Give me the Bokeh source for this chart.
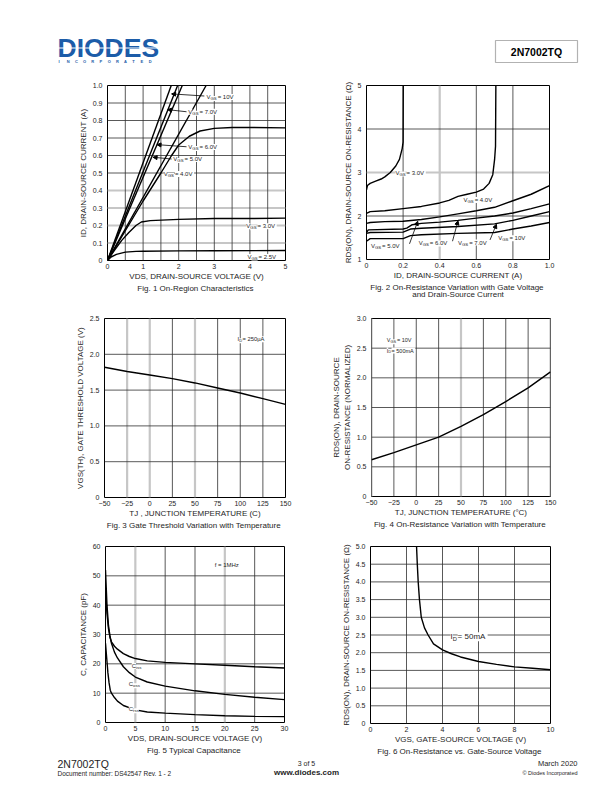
from bokeh.plotting import figure
from bokeh.layouts import column, row
from bokeh.models import (Range1d, FixedTicker, Span, Label, Title, Arrow, NormalHead,
                          BoxAnnotation, CustomJSTickFormatter)
from bokeh.core.properties import value
from bokeh.embed import file_html
from bokeh.resources import INLINE

FONT = "Liberation Sans"
INK = "#1e1e1e"
GRIDC = "#2e2e2e"
GRAYC = "#c6c6c6"
BLUE = "#1c5ca8"

# ---------------- Fig 1 : ID vs VDS ----------------
f1_v10_x = [0.0, 1.79]
f1_v10_y = [0.0, 1.0]
f1_v7_x = [0.0, 1.97]
f1_v7_y = [0.0, 1.0]
f1_v6_x = [0.0, 2.10]
f1_v6_y = [0.0, 1.0]
f1_v5_x = [0.0, 2.77]
f1_v5_y = [0.0, 1.0]
f1_v4_x = [0.0, 0.5, 1.0, 1.5, 1.8, 2.0, 2.3, 2.6, 3.0, 3.5, 4.0, 5.0]
f1_v4_y = [0.0, 0.17, 0.34, 0.50, 0.60, 0.66, 0.71, 0.74, 0.755, 0.76, 0.76, 0.758]
f1_v3_x = [0.0, 0.2, 0.4, 0.6, 0.8, 0.95, 1.2, 2.0, 3.0, 4.0, 5.0]
f1_v3_y = [0.0, 0.06, 0.115, 0.16, 0.20, 0.22, 0.228, 0.235, 0.24, 0.24, 0.242]
f1_v25_x = [0.0, 0.1, 0.25, 0.5, 0.8, 1.0, 2.0, 3.0, 5.0]
f1_v25_y = [0.0, 0.02, 0.035, 0.048, 0.052, 0.053, 0.055, 0.056, 0.057]
f1_xticks = [0, 1, 2, 3, 4, 5]
f1_yticks = [0, 0.1, 0.2, 0.3, 0.4, 0.5, 0.6, 0.7, 0.8, 0.9, 1.0]

# ---------------- Fig 2 : RDS(on) vs ID ----------------
f2_v3_x = [0.0, 0.005, 0.02, 0.05, 0.08, 0.10, 0.13, 0.16, 0.18, 0.195, 0.20, 0.201]
f2_v3_y = [2.6, 2.7, 2.75, 2.8, 2.85, 2.9, 3.0, 3.15, 3.3, 3.55, 3.7, 5.1]
f2_v4_x = [0.0, 0.02, 0.1, 0.2, 0.3, 0.4, 0.45, 0.5, 0.55, 0.6, 0.64, 0.67, 0.69, 0.70, 0.705, 0.707]
f2_v4_y = [2.06, 2.1, 2.12, 2.17, 2.22, 2.3, 2.36, 2.45, 2.5, 2.55, 2.62, 2.75, 2.95, 3.3, 3.6, 5.1]
f2_v5_x = [0.0, 0.02, 0.1, 0.2, 0.3, 0.4, 0.5, 0.6, 0.7, 0.8, 0.9, 1.0]
f2_v5_y = [1.83, 1.85, 1.87, 1.88, 1.92, 1.98, 2.05, 2.12, 2.2, 2.35, 2.5, 2.7]
f2_v6_x = [0.0, 0.01, 0.2, 0.22, 0.25, 0.3, 0.4, 0.5, 0.6, 0.7, 0.8, 0.9, 1.0]
f2_v6_y = [1.62, 1.68, 1.70, 1.72, 1.80, 1.83, 1.86, 1.90, 1.95, 2.0, 2.07, 2.17, 2.28]
f2_v7_x = [0.0, 0.02, 0.2, 0.24, 0.3, 0.5, 0.7, 0.8, 0.9, 1.0]
f2_v7_y = [1.60, 1.62, 1.63, 1.70, 1.72, 1.76, 1.82, 1.90, 2.0, 2.1]
f2_v10_x = [0.0, 0.02, 0.2, 0.24, 0.3, 0.5, 0.7, 0.8, 0.9, 1.0]
f2_v10_y = [1.42, 1.48, 1.48, 1.55, 1.57, 1.60, 1.62, 1.70, 1.77, 1.85]
f2_xticks = [0, 0.2, 0.4, 0.6, 0.8, 1.0]
f2_yticks = [1, 2, 3, 4, 5]

# ---------------- Fig 3 : VGS(th) vs TJ ----------------
f3_t = [-50, -25, 0, 25, 50, 75, 100, 125, 150]
f3_v = [1.82, 1.76, 1.71, 1.66, 1.60, 1.53, 1.46, 1.38, 1.30]
f3_xticks = [-50, -25, 0, 25, 50, 75, 100, 125, 150]
f3_yticks = [0, 0.5, 1.0, 1.5, 2.0, 2.5]

# ---------------- Fig 4 : normalized RDS(on) vs TJ ----------------
f4_t = [-50, -25, 0, 25, 50, 75, 100, 125, 150]
f4_r = [0.62, 0.74, 0.87, 1.0, 1.18, 1.38, 1.60, 1.83, 2.10]
f4_xticks = [-50, -25, 0, 25, 50, 75, 100, 125, 150]
f4_yticks = [0, 0.5, 1.0, 1.5, 2.0, 2.5, 3.0]

# ---------------- Fig 5 : capacitance vs VDS ----------------
f5_ciss_v = [0, 0.25, 0.5, 0.75, 1, 1.5, 2, 3, 4, 5, 7, 10, 15, 20, 25, 30]
f5_ciss_c = [45, 37, 32, 29, 27.5, 26, 25, 23.5, 22.5, 21.8, 21, 20.5, 20, 19.5, 19, 18.6]
f5_coss_v = [0, 0.25, 0.5, 0.75, 1, 1.5, 2, 3, 4, 5, 7, 10, 15, 20, 25, 30]
f5_coss_c = [52, 40, 33, 29.5, 27, 24, 22, 19, 17, 15.5, 13.8, 12.4, 10.8, 9.6, 8.6, 7.8]
f5_crss_v = [0, 0.2, 0.4, 0.6, 0.8, 1, 1.5, 2, 3, 5, 7, 10, 15, 20, 25, 30]
f5_crss_c = [27, 22, 17, 13.5, 11, 10, 8.5, 7.3, 5.8, 4.3, 3.6, 3.2, 2.7, 2.3, 2.1, 2.0]
f5_xticks = [0, 5, 10, 15, 20, 25, 30]
f5_yticks = [0, 10, 20, 30, 40, 50, 60]

# ---------------- Fig 6 : RDS(on) vs VGS ----------------
f6_vgs = [2.55, 2.6, 2.65, 2.72, 2.82, 3.0, 3.2, 3.5, 4.0, 4.5, 5, 6, 7, 8, 9, 10]
f6_r = [5.1, 4.5, 4.0, 3.5, 3.0, 2.7, 2.5, 2.25, 2.08, 1.97, 1.88, 1.75, 1.67, 1.6, 1.56, 1.52]
f6_xticks = [0, 2, 4, 6, 8, 10]
f6_yticks = [0, 0.5, 1.0, 1.5, 2.0, 2.5, 3.0, 3.5, 4.0, 4.5, 5.0]

# ---------------- helpers ----------------
CW = {' ': .278, '=': .584, '.': .278, ',': .278, '-': .333, '(': .333, ')': .333, 'µ': .556,
      'm': .833, 'z': .5, 'f': .278, 'i': .222, 's': .5, 'A': .667, 'V': .667, 'M': .833,
      'H': .722, 'G': .778, 'S': .667, 'D': .722, 'I': .278, 'C': .722}


def tw(s, size):
    return sum(CW.get(c, .556) for c in s) * size


def sublabel(p, x, y, parts, size=6.0, bg=True):
    off = 0.0
    for txt_, sub in parts:
        fs = size * 0.72 if sub else size
        lab = Label(x=x, y=y, x_offset=off, y_offset=(-0.25 * size) if sub else 0,
                    text=txt_, text_font=FONT, text_font_size=f"{fs:.2f}px",
                    text_color=INK, text_baseline="middle", text_align="left",
                    background_fill_color="white" if bg else None)
        p.add_layout(lab)
        off += tw(txt_, fs) * (1.15 if sub else 1.0)


def vgs(p, x, y, val, size=6.0, bg=True):
    sublabel(p, x, y, [("V", False), ("GS", True), (" = " + val, False)], size, bg)


def arrow(p, x0, y0, x1, y1):
    p.add_layout(Arrow(x_start=x0, y_start=y0, x_end=x1, y_end=y1, line_width=0.8,
                       line_color="black",
                       end=NormalHead(size=4, fill_color="black", line_color="black")))


def fmt1():
    return CustomJSTickFormatter(code="return tick == 0 ? '0' : tick.toFixed(1);")


def base_fig(xr, yr, fw, fh, bl, br, bt, bb, xlab, ylab, xticks, yticks):
    p = figure(frame_width=fw, frame_height=fh, x_range=Range1d(*xr), y_range=Range1d(*yr),
               output_backend="svg", toolbar_location=None,
               min_border_left=bl, min_border_right=br, min_border_top=bt, min_border_bottom=bb)
    p.xgrid.visible = False
    p.ygrid.visible = False
    p.outline_line_color = "black"
    p.outline_line_width = 1
    p.outline_line_alpha = 1
    p.background_fill_color = "white"
    p.border_fill_color = "white"
    for ax in (p.xaxis[0], p.yaxis[0]):
        ax.axis_line_color = None
        ax.major_tick_in = 0
        ax.major_tick_out = 0
        ax.minor_tick_line_color = None
        ax.major_label_text_font = FONT
        ax.major_label_text_font_size = "7px"
        ax.major_label_text_color = INK
        ax.axis_label_text_font = FONT
        ax.axis_label_text_font_size = "8px"
        ax.axis_label_text_font_style = "normal"
        ax.axis_label_text_color = INK
    p.xaxis[0].major_label_standoff = 3
    p.yaxis[0].major_label_standoff = 5
    p.xaxis[0].axis_label_standoff = 0
    p.yaxis[0].axis_label_standoff = 2
    p.xaxis[0].axis_label = xlab
    p.yaxis[0].axis_label = ylab
    p.xaxis[0].ticker = FixedTicker(ticks=xticks)
    p.yaxis[0].ticker = FixedTicker(ticks=yticks)
    return p


def grid(p, xs_dark=(), xs_gray=(), ys_dark=(), ys_gray=()):
    for v in xs_gray:
        p.add_layout(Span(location=v, dimension="height", line_color=GRAYC, line_width=2.2, level="underlay"))
    for v in ys_gray:
        p.add_layout(Span(location=v, dimension="width", line_color=GRAYC, line_width=2.2, level="underlay"))
    for v in xs_dark:
        p.add_layout(Span(location=v, dimension="height", line_color=GRIDC, line_width=0.8, level="underlay"))
    for v in ys_dark:
        p.add_layout(Span(location=v, dimension="width", line_color=GRIDC, line_width=0.8, level="underlay"))


def caption(p, lines):
    for i, t in enumerate(lines):
        p.add_layout(Title(text=t, align="center", text_font=FONT, text_font_size="8px",
                           text_font_style="normal", text_color=INK,
                           standoff=-4 if i == 0 else -3, offset=0), "below")


def curve(p, x, y):
    p.line(x, y, line_color="black", line_width=1.4)


# ---------------- Figure 1 ----------------
p1 = base_fig((0, 5), (0, 1.0), 178, 175, 107, 35, 10, 45,
              "VDS, DRAIN-SOURCE VOLTAGE (V)", "ID, DRAIN-SOURCE CURRENT (A)", f1_xticks, f1_yticks)
p1.yaxis[0].formatter = fmt1()
grid(p1, xs_dark=[0.5, 1, 1.5, 2, 2.5, 3, 3.5, 4, 4.5], ys_gray=[0.1, 0.2, 0.3, 0.4],
     ys_dark=[0.5, 0.6, 0.7, 0.8, 0.9])
for xs, ys in [(f1_v10_x, f1_v10_y), (f1_v7_x, f1_v7_y), (f1_v6_x, f1_v6_y), (f1_v5_x, f1_v5_y),
               (f1_v4_x, f1_v4_y), (f1_v3_x, f1_v3_y), (f1_v25_x, f1_v25_y)]:
    curve(p1, xs, ys)
arrow(p1, 2.72, 0.94, 1.80, 0.952)
arrow(p1, 2.22, 0.85, 1.69, 0.862)
arrow(p1, 2.22, 0.65, 1.39, 0.662)
arrow(p1, 1.80, 0.58, 1.28, 0.59)
vgs(p1, 2.78, 0.935, "10V")
vgs(p1, 2.27, 0.85, "7.0V")
vgs(p1, 2.27, 0.648, "6.0V")
vgs(p1, 1.85, 0.58, "5.0V")
vgs(p1, 1.58, 0.495, "4.0V")
vgs(p1, 3.90, 0.196, "3.0V")
vgs(p1, 3.93, 0.02, "2.5V")
caption(p1, ["Fig. 1  On-Region Characteristics"])

# ---------------- Figure 2 ----------------
p2 = base_fig((0, 1.0), (1, 5), 183, 174, 46, 55, 10, 46,
              "ID, DRAIN-SOURCE CURRENT (A)", "RDS(ON), DRAIN-SOURCE ON-RESISTANCE (Ω)",
              f2_xticks, f2_yticks)
p2.xaxis[0].formatter = fmt1()
grid(p2, xs_dark=[0.2, 0.6, 0.8], xs_gray=[0.4], ys_dark=[2, 4], ys_gray=[3])
for xs, ys in [(f2_v3_x, f2_v3_y), (f2_v4_x, f2_v4_y), (f2_v5_x, f2_v5_y), (f2_v6_x, f2_v6_y),
               (f2_v7_x, f2_v7_y), (f2_v10_x, f2_v10_y)]:
    curve(p2, xs, ys)
arrow(p2, 0.235, 1.36, 0.28, 1.88)
arrow(p2, 0.47, 1.42, 0.50, 1.89)
arrow(p2, 0.675, 1.45, 0.71, 1.81)
vgs(p2, 0.158, 3.0, "3.0V")
vgs(p2, 0.53, 2.37, "4.0V")
vgs(p2, 0.024, 1.30, "5.0V")
vgs(p2, 0.285, 1.37, "6.0V")
vgs(p2, 0.50, 1.39, "7.0V")
vgs(p2, 0.72, 1.49, "10V")
caption(p2, ["Fig. 2  On-Resistance Variation with Gate Voltage", "and Drain-Source Current"])

# ---------------- Figure 3 ----------------
p3 = base_fig((-50, 150), (0, 2.5), 181, 179, 104, 35, 13, 35,
              "TJ , JUNCTION TEMPERATURE (C)", "VGS(TH), GATE THRESHOLD VOLTAGE (V)",
              f3_xticks, f3_yticks)
p3.yaxis[0].formatter = fmt1()
grid(p3, xs_dark=[25, 75, 100, 125], xs_gray=[-25, 0, 50], ys_dark=[0.5, 1.0, 1.5, 2.0])
curve(p3, f3_t, f3_v)
sublabel(p3, 97, 2.21, [("I", False), ("D", True), (" = 250µA", False)], 5.8)
caption(p3, ["Fig. 3  Gate Threshold Variation with Temperature"])

# ---------------- Figure 4 ----------------
p4 = base_fig((-50, 150), (0, 3.0), 179, 178, 51, 54, 13, 36,
              "TJ, JUNCTION TEMPERATURE (°C)", "RDS(ON), DRAIN-SOURCE\nON-RESISTANCE (NORMALIZED)",
              f4_xticks, f4_yticks)
p4.yaxis[0].formatter = fmt1()
grid(p4, xs_dark=[-25, 0, 25, 75, 100, 125], xs_gray=[-50, 50, 150],
     ys_dark=[0.5, 1.0, 1.5, 2.0, 2.5])
curve(p4, f4_t, f4_r)
vgs(p4, -33, 2.63, "10V", 5.5)
sublabel(p4, -33, 2.46, [("I", False), ("D", True), (" = 500mA", False)], 5.5)
caption(p4, ["Fig. 4  On-Resistance Variation with Temperature"])

# ---------------- Figure 5 ----------------
p5 = base_fig((0, 30), (0, 60), 179, 176, 105, 36, 14, 34,
              "VDS, DRAIN-SOURCE VOLTAGE (V)", "C, CAPACITANCE (pF)", f5_xticks, f5_yticks)
grid(p5, xs_dark=[10, 15, 25], xs_gray=[5, 20], ys_dark=[10, 20, 30, 40, 50])
curve(p5, f5_ciss_v, f5_ciss_c)
curve(p5, f5_coss_v, f5_coss_c)
curve(p5, f5_crss_v, f5_crss_c)
sublabel(p5, 18.3, 53.6, [("f = 1MHz", False)], 6.0, bg=False)
sublabel(p5, 4.4, 19.3, [("C", False), ("iss", True)], 6.0)
sublabel(p5, 3.9, 13.0, [("C", False), ("oss", True)], 6.0)
sublabel(p5, 3.9, 4.5, [("C", False), ("rss", True)], 6.0)
caption(p5, ["Fig. 5  Typical Capacitance"])

# ---------------- Figure 6 ----------------
p6 = base_fig((0, 10), (0, 5.0), 180, 177, 50, 54, 14, 33,
              "VGS, GATE-SOURCE VOLTAGE (V)", "RDS(ON), DRAIN-SOURCE ON-RESISTANCE (Ω)",
              f6_xticks, f6_yticks)
p6.yaxis[0].formatter = fmt1()
grid(p6, xs_dark=[2, 4, 6, 8], ys_dark=[0.5, 1.0, 1.5, 2.0, 2.5, 3.0, 3.5, 4.0, 4.5])
curve(p6, f6_vgs, f6_r)
sublabel(p6, 4.45, 2.45, [("I", False), ("D", True), (" = 50mA", False)], 8.0)
caption(p6, ["Fig. 6  On-Resistance vs. Gate-Source Voltage"])


# ---------------- header & footer ----------------
def blank(h, y0, y1):
    p = figure(width=604, height=h, x_range=Range1d(0, 604), y_range=Range1d(y1, y0),
               output_backend="svg", toolbar_location=None, x_axis_type=None, y_axis_type=None,
               min_border=0)
    p.grid.visible = False
    p.outline_line_color = None
    p.background_fill_color = "white"
    p.border_fill_color = "white"
    return p


def txt(p, x, y, s, size, align="left", bold=False, color=INK, italic=False):
    style = "bold" if bold else "normal"
    if italic:
        style = "bold italic" if bold else "italic"
    p.text(x=[x], y=[y], text=[s], text_font=value(FONT), text_font_size=f"{size}px",
           text_font_style=style, text_color=color, text_align=align, text_baseline="middle")


hdr = blank(75, 0, 75)
txt(hdr, 57, 47, "DIODES", 26.5, bold=True, color=BLUE)
hdr.segment(x0=[55], y0=[47.5], x1=[160], y1=[47.5], line_color="white", line_width=1.1)
for i, ch in enumerate("INCORPORATED"):
    txt(hdr, 58 + i * 8.2, 61, ch, 4, bold=True, color=BLUE)
hdr.add_layout(BoxAnnotation(left=495, right=577, top=40, bottom=62, fill_alpha=0,
                             line_color="black", line_width=1.2))
txt(hdr, 536, 51.5, "2N7002TQ", 10.5, align="center", bold=True, color="black")

ftr = blank(25, 756, 781)
txt(ftr, 57, 763, "2N7002TQ", 10.5)
txt(ftr, 57, 773, "Document number: DS42547 Rev. 1 - 2", 6.5)
txt(ftr, 306, 763, "3 of 5", 7, align="center")
txt(ftr, 306, 772, "www.diodes.com", 8, align="center", bold=True)
txt(ftr, 577, 763, "March 2020", 7.5, align="right")
txt(ftr, 577, 772, "© Diodes Incorporated", 5.5, align="right")

layout = column(hdr, row(p1, p2), row(p3, p4), row(p5, p6), ftr)

open("out.html", "w").write(file_html(layout, INLINE))
